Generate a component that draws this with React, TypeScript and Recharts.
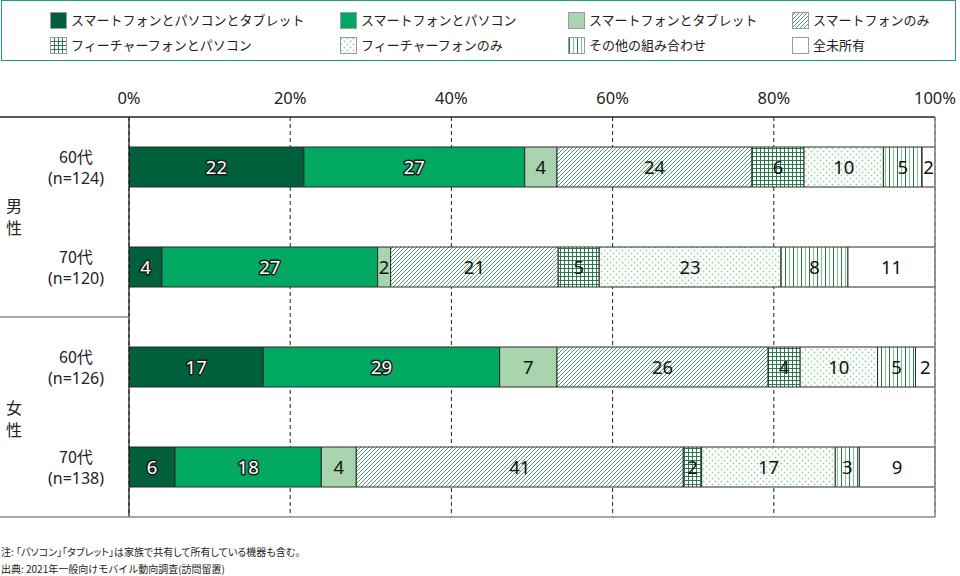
import React from 'react';
import { BarChart, Bar, XAxis, YAxis, CartesianGrid, LabelList } from 'recharts';

const seriesNames = [
  'スマートフォンとパソコンとタブレット',
  'スマートフォンとパソコン',
  'スマートフォンとタブレット',
  'スマートフォンのみ',
  'フィーチャーフォンとパソコン',
  'フィーチャーフォンのみ',
  'その他の組み合わせ',
  '全未所有',
];
const seriesKeys = ['s0', 's1', 's2', 's3', 's4', 's5', 's6', 's7'];
const seriesFills = [
  '#00603b',
  '#00a862',
  '#a8d5ae',
  'url(#pHatch)',
  'url(#pGrid)',
  'url(#pDots)',
  'url(#pVert)',
  '#ffffff',
];
const darkLabelSeries = [true, true, false, false, false, false, false, false];

const ageLabels = ['60代', '70代', '60代', '70代'];
const nLabels = ['(n=124)', '(n=120)', '(n=126)', '(n=138)'];
const groupLabels = ['男性', '女性'];

const male60 = [21.7, 27.4, 4.0, 24.2, 6.45, 9.85, 4.8, 1.6];
const male70 = [4.09, 26.76, 1.61, 20.79, 5.09, 22.55, 8.31, 10.8];
const female60 = [16.66, 29.33, 7.11, 26.2, 3.97, 9.6, 4.71, 2.42];
const female70 = [5.71, 18.15, 4.34, 40.57, 2.28, 16.58, 2.98, 9.39];

const xTicks = [0, 20, 40, 60, 80, 100];

const rows = [male60, male70, female60, female70];
const data = rows.map((vals, i) => {
  const o: any = { key: `r${i}` };
  seriesKeys.forEach((k, j) => {
    o[k] = vals[j];
  });
  return o;
});

const JP = '"Noto Sans CJK JP", "Noto Sans", sans-serif';
const NUM = '"Noto Sans", "Open Sans", sans-serif';

const makeLabel = (dark: boolean) => (props: any) => {
  const { x, y, width, height, value } = props;
  if (value == null) return null;
  const cx = Number(x) + Number(width) / 2;
  const cy = Number(y) + Number(height) / 2;
  const txt = Math.round(Number(value));
  if (dark) {
    return (
      <text
        x={cx}
        y={cy}
        dy={6.5}
        textAnchor="middle"
        fontFamily={NUM}
        fontSize={18.5}
        fill="#ffffff"
        stroke="#1a1a1a"
        strokeWidth={3}
        strokeLinejoin="round"
        style={{ paintOrder: 'stroke' }}
      >
        {txt}
      </text>
    );
  }
  return (
    <text
      x={cx}
      y={cy}
      dy={6.5}
      textAnchor="middle"
      fontFamily={NUM}
      fontSize={18.5}
      fill="#111111"
    >
      {txt}
    </text>
  );
};

const YTick = (props: any) => {
  const { y, index } = props;
  return (
    <g>
      <text x={76} y={y - 10} dy={5.5} textAnchor="middle" fontFamily={JP} fontSize={16} fill="#222">
        {ageLabels[index]}
      </text>
      <text x={76} y={y + 11} dy={5.5} textAnchor="middle" fontFamily={NUM} fontSize={16} fill="#222">
        {nLabels[index]}
      </text>
    </g>
  );
};

const Patterns = () => (
  <svg width={0} height={0} style={{ position: 'absolute' }}>
    <defs>
      <pattern id="pHatch" patternUnits="userSpaceOnUse" width={4} height={4}>
        <rect width={4} height={4} fill="#ffffff" />
        <path d="M-1,1 l2,-2 M0,4 l4,-4 M3,5 l2,-2" stroke="#3b9463" strokeWidth={0.9} />
      </pattern>
      <pattern id="pGrid" patternUnits="userSpaceOnUse" width={4} height={4}>
        <rect width={4} height={4} fill="#ffffff" />
        <path d="M0,0.5 H4 M0.5,0 V4" stroke="#1a6e42" strokeWidth={0.9} />
      </pattern>
      <pattern id="pDots" patternUnits="userSpaceOnUse" width={6} height={6}>
        <rect width={6} height={6} fill="#ffffff" />
        <circle cx={1.5} cy={1.5} r={1} fill="#9fd2ac" />
        <circle cx={4.5} cy={4.5} r={1} fill="#9fd2ac" />
      </pattern>
      <pattern id="pVert" patternUnits="userSpaceOnUse" width={8} height={4}>
        <rect width={8} height={4} fill="#ffffff" />
        <path d="M1.5,0 V4" stroke="#2a7d4f" strokeWidth={1} />
        <path d="M5.5,0 V4" stroke="#86c497" strokeWidth={1.2} />
      </pattern>
    </defs>
  </svg>
);

const legendCols = [49, 339, 567, 791];
const legendRows = [11, 36];

const Legend = () => (
  <div
    style={{
      position: 'absolute',
      left: 1,
      top: 0,
      width: 955,
      height: 61,
      border: '1.5px solid #1e9e72',
      boxSizing: 'border-box',
    }}
  >
    {seriesNames.map((name, i) => {
      const col = i % 4;
      const row = Math.floor(i / 4);
      const left = legendCols[col] - 1;
      const top = legendRows[row];
      return (
        <div key={name} style={{ position: 'absolute', left, top, height: 16, display: 'flex', alignItems: 'center' }}>
          <svg width={17} height={17} style={{ display: 'block' }}>
            <rect x={0.5} y={0.5} width={16} height={16} fill={seriesFills[i]} stroke="#9a9a9a" strokeWidth={1} />
          </svg>
          <span
            style={{
              marginLeft: 4,
              fontFamily: JP,
              fontSize: 13,
              color: '#222',
              whiteSpace: 'nowrap',
              lineHeight: '16px',
            }}
          >
            {name}
          </span>
        </div>
      );
    })}
  </div>
);

const Overlay = () => (
  <svg width={960} height={576} style={{ position: 'absolute', left: 0, top: 0, pointerEvents: 'none' }}>
    <line x1={0} y1={117} x2={935} y2={117} stroke="#222" strokeWidth={1.3} />
    <line x1={129} y1={117} x2={129} y2={517} stroke="#222" strokeWidth={1.3} />
    <line x1={0} y1={317} x2={129} y2={317} stroke="#8a8a8a" strokeWidth={1.6} />
    <line x1={0} y1={517} x2={935} y2={517} stroke="#8a8a8a" strokeWidth={1.6} />
    <line x1={935} y1={117} x2={935} y2={517} stroke="#8a8a8a" strokeWidth={1.6} />
    <text x={14} y={206} dy={5.5} textAnchor="middle" fontFamily={JP} fontSize={16} fill="#222">
      {groupLabels[0][0]}
    </text>
    <text x={14} y={228} dy={5.5} textAnchor="middle" fontFamily={JP} fontSize={16} fill="#222">
      {groupLabels[0][1]}
    </text>
    <text x={14} y={408} dy={5.5} textAnchor="middle" fontFamily={JP} fontSize={16} fill="#222">
      {groupLabels[1][0]}
    </text>
    <text x={14} y={430} dy={5.5} textAnchor="middle" fontFamily={JP} fontSize={16} fill="#222">
      {groupLabels[1][1]}
    </text>
  </svg>
);

export default function App() {
  return (
    <div style={{ position: 'absolute', left: 0, top: 0, width: 960, height: 576, background: '#fff', overflow: 'hidden' }}>
      <Patterns />
      <BarChart
        width={960}
        height={576}
        data={data}
        layout="vertical"
        margin={{ top: 87, right: 25, bottom: 59, left: 0 }}
        barSize={40}
      >
        <CartesianGrid horizontal={false} stroke="#222" strokeDasharray="4 3" />
        <XAxis
          type="number"
          orientation="top"
          domain={[0, 100]}
          ticks={xTicks}
          height={30}
          axisLine={false}
          tickLine={false}
          tickFormatter={(v: number) => `${v}%`}
          tick={{ fontFamily: NUM, fontSize: 16.5, fill: '#222' }}
          tickMargin={7}
          allowDataOverflow
        />
        <YAxis
          type="category"
          dataKey="key"
          width={129}
          axisLine={false}
          tickLine={false}
          tick={<YTick />}
        />
        {seriesKeys.map((k, i) => (
          <Bar
            key={k}
            dataKey={k}
            stackId="a"
            fill={seriesFills[i]}
            stroke="#2a2a2a"
            strokeWidth={1}
            isAnimationActive={false}
          >
            <LabelList dataKey={k} content={makeLabel(darkLabelSeries[i])} />
          </Bar>
        ))}
      </BarChart>
      <Overlay />
      <Legend />
      <div
        style={{
          position: 'absolute',
          left: 1,
          top: 543,
          fontFamily: JP,
          fontSize: 10,
          color: '#222',
          lineHeight: '17px',
          whiteSpace: 'nowrap',
        }}
      >
        <div style={{ fontFeatureSettings: '"palt"' }}>注: 「パソコン」「タブレット」は家族で共有して所有している機器も含む。</div>
        <div>出典: 2021年一般向けモバイル動向調査(訪問留置)</div>
      </div>
    </div>
  );
}
